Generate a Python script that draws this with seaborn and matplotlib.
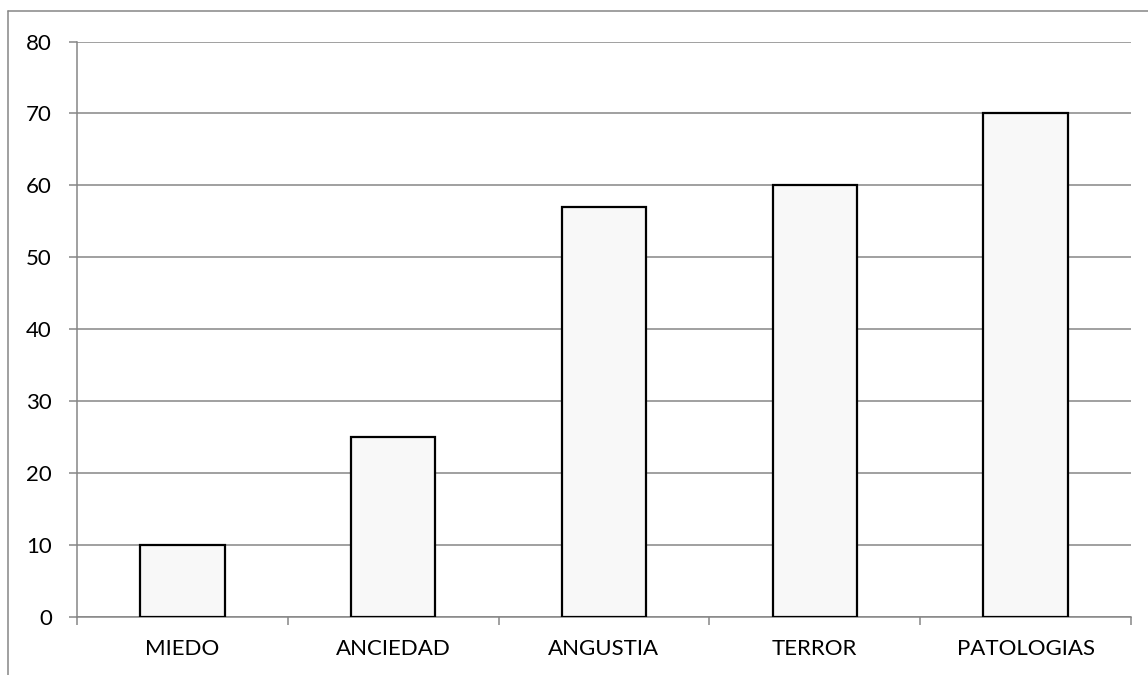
import matplotlib
matplotlib.use("Agg")
import matplotlib.pyplot as plt
import seaborn as sns
import pandas as pd
from matplotlib.lines import Line2D

categories = ["MIEDO", "ANCIEDAD", "ANGUSTIA", "TERROR", "PATOLOGIAS"]
values = [10, 25, 57, 60, 70]
yticks = [0, 10, 20, 30, 40, 50, 60, 70, 80]

sns.set_theme(style="white")
plt.rcParams['font.family'] = ['Lato', 'DejaVu Sans']

df = pd.DataFrame({"cat": categories, "val": values})

W, H = 1148, 675
fig = plt.figure(figsize=(W / 100, H / 100), dpi=100)
ax = fig.add_axes([77 / W, 1 - 617 / H, (1131 - 77) / W, (617 - 41.5) / H])

grid_c = "#868686"
sns.barplot(data=df, x="cat", y="val", ax=ax, color="#f8f8f8",
            edgecolor="black", linewidth=1.6, width=0.4, saturation=1, zorder=3)

ax.set_ylim(0, 80)
ax.set_xlim(-0.5, len(categories) - 0.5)
ax.set_yticks(yticks)
ax.set_yticklabels([str(t) for t in yticks])
ax.yaxis.grid(True, color=grid_c, linewidth=1.1, zorder=0)
ax.set_axisbelow(True)
ax.set_xlabel("")
ax.set_ylabel("")

for s in ["top", "right"]:
    ax.spines[s].set_visible(False)
for s in ["left", "bottom"]:
    ax.spines[s].set_color(grid_c)
    ax.spines[s].set_linewidth(1.1)

# x ticks at category boundaries
ax.set_xticks(range(len(categories)))
ax.set_xticklabels(categories)
ax.set_xticks([i - 0.5 for i in range(len(categories) + 1)], minor=True)
ax.tick_params(axis="x", which="major", length=0, pad=16, labelsize=16, colors="black")
ax.tick_params(axis="x", which="minor", length=6, width=1.1, color=grid_c, direction="out", bottom=True)
ax.tick_params(axis="y", which="major", length=6, width=1.1, color=grid_c, direction="out",
               left=True, pad=12, labelsize=16, labelcolor="black")

# outer chart border (top and left visible)
fig.add_artist(Line2D([8 / W, 8 / W], [0, 1 - 11 / H], transform=fig.transFigure,
                      color=grid_c, linewidth=1.1))
fig.add_artist(Line2D([8 / W, 1], [1 - 11 / H, 1 - 11 / H], transform=fig.transFigure,
                      color=grid_c, linewidth=1.1))

fig.savefig("out.png", dpi=100, facecolor="white")
